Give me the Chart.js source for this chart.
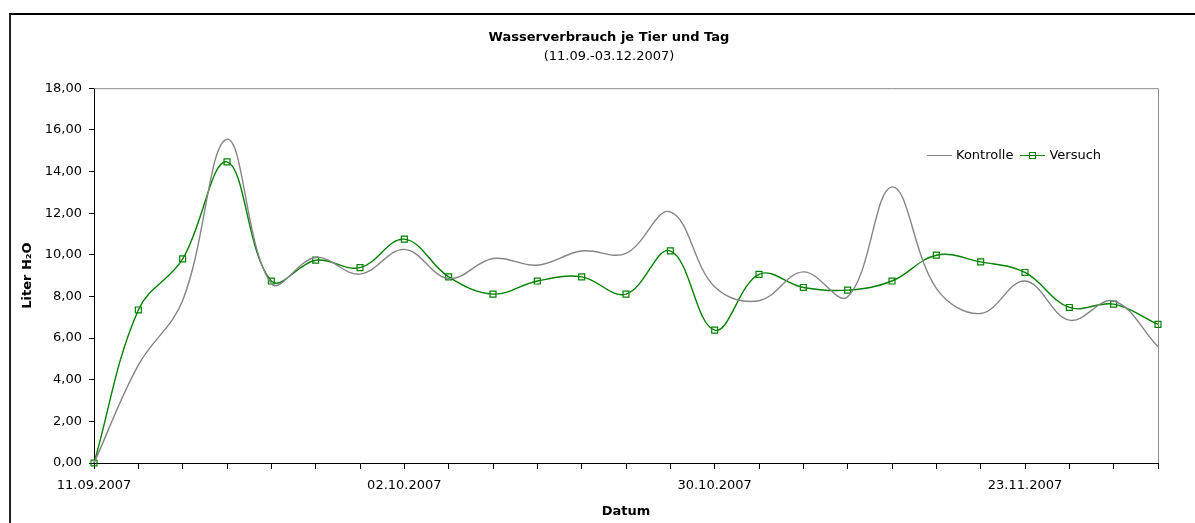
<!DOCTYPE html>
<html lang="de">
<head>
<meta charset="utf-8">
<title>Wasserverbrauch je Tier und Tag</title>
<script src="https://cdn.jsdelivr.net/npm/chart.js@4.4.1/dist/chart.umd.min.js"></script>
<style>
  html, body { margin: 0; padding: 0; background: #fff; }
  #wrap { position: relative; width: 1195px; height: 523px; overflow: hidden; }
  #frame {
    position: absolute; left: 9px; top: 13px; width: 1300px; height: 600px;
    border-top: 2px solid #000; border-left: 2px solid #222;
  }
  #chart { position: absolute; left: 0; top: 0; }
  #legend {
    position: absolute; left: 927px; top: 147px;
    font: 13px "DejaVu Sans", sans-serif; color: #000;
    display: flex; align-items: center; white-space: nowrap;
  }
  #legend .sym { position: relative; display: inline-block; width: 25px; height: 14px; margin-right: 4px; }
  #legend .sym i.ln { position: absolute; left: 0; right: 0; top: 7px; border-top: 1.5px solid; }
  #legend .sym i.mk {
    position: absolute; left: 9px; top: 4px; width: 5px; height: 5px;
    border: 1.2px solid; background: transparent;
  }
  #legend .item { display: flex; align-items: center; margin-right: 7px; }
</style>
</head>
<body>
<div id="wrap">
  <div id="frame"></div>
  <canvas id="chart" width="1195" height="523"></canvas>
  <div id="legend"></div>
</div>
<script>
// Messtage (nur jeder 7. wird beschriftet, Zwischendaten geschaetzt)
const dates = [
  "11.09.2007", "14.09.2007", "17.09.2007", "20.09.2007", "23.09.2007",
  "26.09.2007", "29.09.2007", "02.10.2007", "06.10.2007", "10.10.2007",
  "14.10.2007", "18.10.2007", "22.10.2007", "26.10.2007", "30.10.2007",
  "02.11.2007", "06.11.2007", "09.11.2007", "13.11.2007", "16.11.2007",
  "20.11.2007", "23.11.2007", "26.11.2007", "30.11.2007", "03.12.2007",
];

// Liter H2O je Tier und Tag
const kontrolle = [
  0, 4.7, 7.8, 15.55, 8.62, 9.87, 9.07, 10.26, 8.86, 9.82, 9.5, 10.18,
  10.07, 12.06, 8.46, 7.79, 9.18, 7.98, 13.26, 8.39, 7.18, 8.74, 6.86,
  7.78, 5.58,
];
const versuch = [
  0, 7.35, 9.8, 14.46, 8.74, 9.74, 9.38, 10.75, 8.94, 8.11, 8.74, 8.94,
  8.11, 10.19, 6.38, 9.06, 8.43, 8.3, 8.74, 9.98, 9.66, 9.15, 7.47,
  7.63, 6.66,
];

const yTicks = [0, 2, 4, 6, 8, 10, 12, 14, 16, 18];
const labelEvery = 7;

Chart.defaults.font.family = "'DejaVu Sans', sans-serif";
Chart.defaults.font.size = 13;
Chart.defaults.color = "#000";

// grauer Rahmen oben und rechts um die Zeichnungsflaeche,
// Titel etwas nach rechts (Diagramm ist breiter als der Ausschnitt)
const plotFrame = {
  id: "plotFrame",
  afterLayout(chart) {
    chart.boxes.forEach((b) => {
      if (b.position === "top" && b.options && b.options.text !== undefined) {
        b.left += 22;
        b.right += 22;
      }
    });
  },
  beforeDatasetsDraw(chart) {
    const { ctx, chartArea: a } = chart;
    ctx.save();
    ctx.strokeStyle = "#8c8c8c";
    ctx.lineWidth = 1;
    ctx.beginPath();
    ctx.moveTo(a.left, a.top + 0.5);
    ctx.lineTo(a.right + 0.5, a.top + 0.5);
    ctx.lineTo(a.right + 0.5, a.bottom);
    ctx.stroke();
    ctx.restore();
  },
};

const datasets = [
  {
    label: "Kontrolle",
    data: kontrolle,
    borderColor: "#858585",
    borderWidth: 1.4,
    pointRadius: 0,
    tension: 0.38,
    clip: false,
  },
  {
    label: "Versuch",
    data: versuch,
    borderColor: "#008000",
    borderWidth: 1.4,
    pointStyle: "rect",
    pointRadius: 4.2,
    pointBorderWidth: 1.2,
    pointBorderColor: "#008000",
    pointBackgroundColor: "rgba(0,0,0,0)",
    tension: 0.38,
    clip: false,
  },
];

const chart = new Chart(document.getElementById("chart"), {
  type: "line",
  data: { labels: dates, datasets: datasets },
  plugins: [plotFrame],
  options: {
    responsive: false,
    animation: false,
    layout: { padding: { left: 16, right: 37, top: 0, bottom: 0 } },
    plugins: {
      legend: { display: false },
      tooltip: { enabled: false },
      title: {
        display: true,
        text: "Wasserverbrauch je Tier und Tag",
        font: { size: 13, weight: "bold" },
        padding: { top: 30, bottom: 2 },
      },
      subtitle: {
        display: true,
        text: "(11.09.-03.12.2007)",
        font: { size: 13 },
        color: "#000",
        padding: { top: 1, bottom: 24 },
      },
    },
    scales: {
      x: {
        type: "category",
        offset: false,
        grid: {
          drawOnChartArea: false,
          drawTicks: true,
          tickLength: 6,
          color: "#000",
        },
        border: { color: "#000", width: 1 },
        ticks: {
          autoSkip: false,
          maxRotation: 0,
          padding: 9,
          callback: (v, i) => (i % labelEvery === 0 ? dates[i] : ""),
        },
        title: {
          display: true,
          text: "Datum",
          font: { size: 13, weight: "bold" },
          padding: { top: 0, bottom: 4 },
        },
        afterFit: (s) => { s.height = 60; },
      },
      y: {
        min: yTicks[0],
        max: yTicks[yTicks.length - 1],
        afterBuildTicks: (s) => { s.ticks = yTicks.map((v) => ({ value: v })); },
        grid: {
          drawOnChartArea: false,
          drawTicks: true,
          tickLength: 5,
          color: "#000",
        },
        border: { color: "#000", width: 1 },
        ticks: {
          padding: 7,
          callback: (v) => Number(v).toFixed(2).replace(".", ","),
        },
        title: {
          display: true,
          text: "Liter H₂O",
          font: { size: 13, weight: "bold" },
          padding: { top: 4, bottom: 0 },
        },
        afterFit: (s) => { s.width = 78; },
      },
    },
  },
});

// Legende innerhalb der Zeichnungsflaeche
const legend = document.getElementById("legend");
chart.data.datasets.forEach((ds) => {
  const item = document.createElement("span");
  item.className = "item";
  const sym = document.createElement("span");
  sym.className = "sym";
  sym.style.color = ds.borderColor;
  sym.innerHTML = '<i class="ln"></i>' + (ds.pointRadius ? '<i class="mk"></i>' : "");
  const txt = document.createElement("span");
  txt.textContent = ds.label;
  item.appendChild(sym);
  item.appendChild(txt);
  legend.appendChild(item);
});
</script>
</body>
</html>
